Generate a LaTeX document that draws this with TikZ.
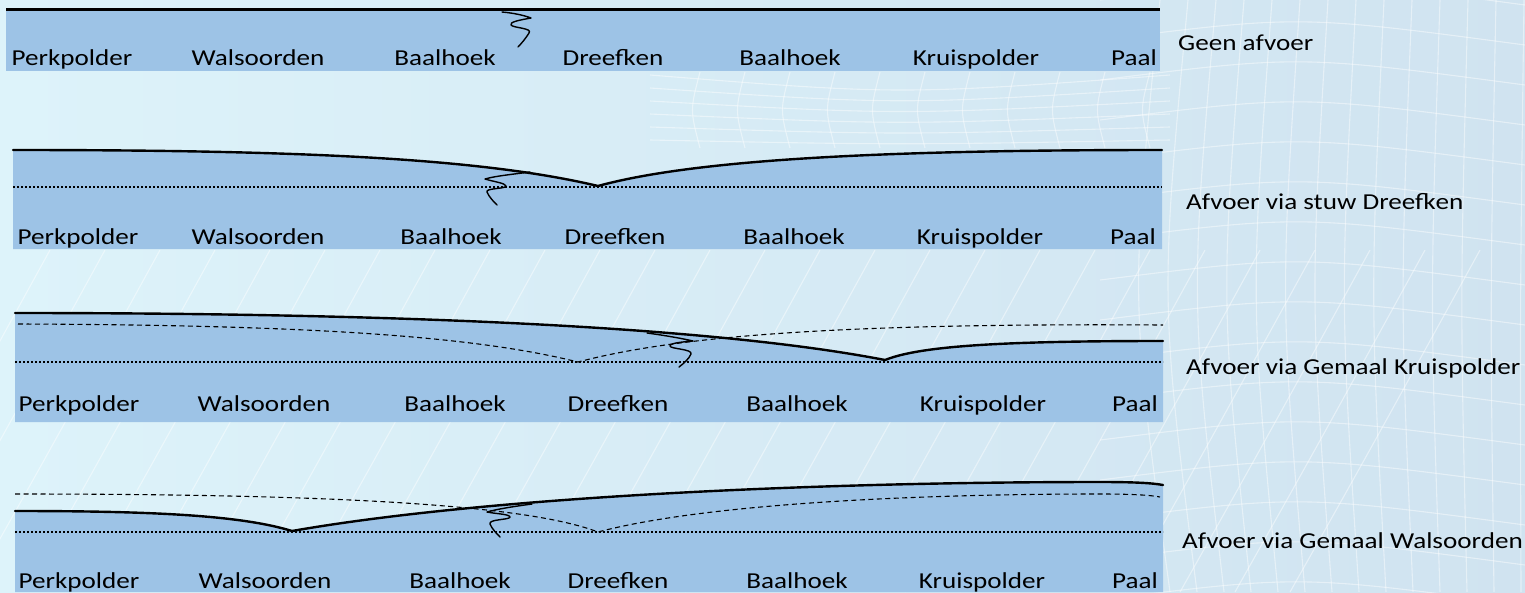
\documentclass[tikz,border=0pt]{standalone}
\usepackage{fontspec}
\setmainfont{Carlito}[FakeStretch=1.19]
\definecolor{bandblue}{RGB}{157,195,230}
\definecolor{bgL}{RGB}{221,243,250}
\definecolor{bgR}{RGB}{208,227,240}
\begin{document}
\begin{tikzpicture}[x=1pt,y=-1pt,
  lbl/.style={anchor=base,inner sep=0pt,font=\fontsize{22.8}{27}\selectfont},
  side/.style={anchor=base west,inner sep=0pt,font=\fontsize{22.8}{27}\selectfont},
  surf/.style={line width=2.4pt,line cap=round},
  prev/.style={line width=1.1pt,dash pattern=on 5pt off 3.5pt},
  rest/.style={line width=2.4pt,dash pattern=on 2pt off 2pt},
  sq/.style={line width=1.4pt,line join=round,line cap=round},
  mesh/.style={white,line width=1.1pt,opacity=0.45}]
\useasboundingbox (0,0) rectangle (1525,592);
\shade[left color=bgL,right color=bgR] (0,0) rectangle (1525,592);
% decorative mesh
\begin{scope}
\clip (0,250) rectangle (1525,592);
\foreach \i in {0,...,28} \draw[mesh] (\i*55-250,592) .. controls (\i*55-170,450) .. (\i*55-60,250);
\end{scope}
\begin{scope}
\clip (0,0) rectangle (1525,592);
\foreach \i in {0,...,13} \draw[mesh] (1160+\i*28,0) .. controls (1130+\i*30,300) .. (1170+\i*27,592);
\foreach \j in {0,...,15} \draw[mesh] (1100,\j*40) .. controls (1300,\j*40-25) .. (1525,\j*40+5);
\foreach \j in {0,...,5} \draw[mesh] (650,75+\j*13) .. controls (900,95+\j*10) .. (1170,75+\j*13);
\foreach \i in {0,...,10} \draw[mesh] (700+\i*45,72) .. controls (690+\i*45,110) .. (700+\i*45,148);
\end{scope}
% ---------- band 1 : Geen afvoer
\fill[bandblue] (6,9) rectangle (1160,71);
\draw[line width=3pt] (6,9) -- (1160,9);
\draw[sq] (502,12) .. controls (513,13) and (523,15) .. (531,18)
  .. controls (520,20) and (509,22) .. (511,25)
  .. controls (513,28) and (533,28) .. (529,33)
  .. controls (526,38) and (521,44) .. (518,47);
\foreach \x/\t [count=\i] in {72/Perkpolder,258/Walsoorden,445/Baalhoek,613/Dreefken,790/Baalhoek,976/Kruispolder,1134/Paal}
  \node[lbl] (a\i) at (\x,65) {\t};
\node[side] (l1) at (1178,50) {Geen afvoer};
% ---------- band 2 : Afvoer via stuw Dreefken
\fill[bandblue] (13,249) -- (13,150) .. controls (300,150) and (480,158) .. (598,186)
  .. controls (700,158) and (900,150) .. (1162,150) -- (1162,249) -- cycle;
\draw[rest] (13,187) -- (1162,187);
\draw[surf] (13,150) .. controls (300,150) and (480,158) .. (598,186)
  .. controls (700,158) and (900,150) .. (1162,150);
\draw[sq] (530,172) .. controls (515,174) and (495,176) .. (485,179)
  .. controls (495,182) and (505,183) .. (506,186)
  .. controls (506,189) and (485,188) .. (487,192)
  .. controls (489,197) and (494,202) .. (497,205);
\foreach \x/\t [count=\i] in {78/Perkpolder,258/Walsoorden,451/Baalhoek,615/Dreefken,794/Baalhoek,980/Kruispolder,1133/Paal}
  \node[lbl] (b\i) at (\x,244) {\t};
\node[side] (l2) at (1186,209) {Afvoer via stuw Dreefken};
% ---------- band 3 : Afvoer via Gemaal Kruispolder
\fill[bandblue] (15,422) -- (15,313) .. controls (420,313) and (720,328) .. (885,360)
  .. controls (920,346) and (1000,341) .. (1163,341) -- (1163,422) -- cycle;
\draw[rest] (15,362) -- (1163,362);
\draw[prev] (18,324) .. controls (300,325) and (470,335) .. (578,362)
  .. controls (680,335) and (850,323) .. (1163,325);
\draw[surf] (15,313) .. controls (420,313) and (720,328) .. (885,360)
  .. controls (920,346) and (1000,341) .. (1163,341);
\draw[sq] (647,333) .. controls (662,335) and (680,338) .. (693,341)
  .. controls (682,342) and (670,343) .. (670,346)
  .. controls (670,349) and (693,349) .. (691,354)
  .. controls (689,359) and (683,364) .. (679,367);
\foreach \x/\t [count=\i] in {79/Perkpolder,264/Walsoorden,455/Baalhoek,618/Dreefken,797/Baalhoek,983/Kruispolder,1135/Paal}
  \node[lbl] (c\i) at (\x,411) {\t};
\node[side] (l3) at (1186,374) {Afvoer via Gemaal Kruispolder};
% ---------- band 4 : Afvoer via Gemaal Walsoorden
\fill[bandblue] (15,592) -- (15,511) .. controls (150,511) and (240,515) .. (292,531)
  .. controls (480,498) and (800,482) .. (1100,482) .. controls (1135,482) and (1152,483) .. (1163,485)
  -- (1163,592) -- cycle;
\draw[rest] (15,532) -- (1163,532);
\draw[prev] (15,494) .. controls (300,494) and (520,502) .. (598,532)
  .. controls (700,505) and (900,494) .. (1100,494) .. controls (1130,494) and (1150,495) .. (1160,497);
\draw[surf] (15,511) .. controls (150,511) and (240,515) .. (292,531)
  .. controls (480,498) and (800,482) .. (1100,482) .. controls (1135,482) and (1152,483) .. (1163,485);
\draw[sq] (532,504) .. controls (517,506) and (497,509) .. (487,512)
  .. controls (497,514) and (509,514) .. (510,517)
  .. controls (510,520) and (488,519) .. (490,524)
  .. controls (492,529) and (497,534) .. (500,537);
\foreach \x/\t [count=\i] in {79/Perkpolder,265/Walsoorden,460/Baalhoek,618/Dreefken,797/Baalhoek,982/Kruispolder,1135/Paal}
  \node[lbl] (d\i) at (\x,588) {\t};
\node[side] (l4) at (1182,548) {Afvoer via Gemaal Walsoorden};
\end{tikzpicture}
\end{document}
